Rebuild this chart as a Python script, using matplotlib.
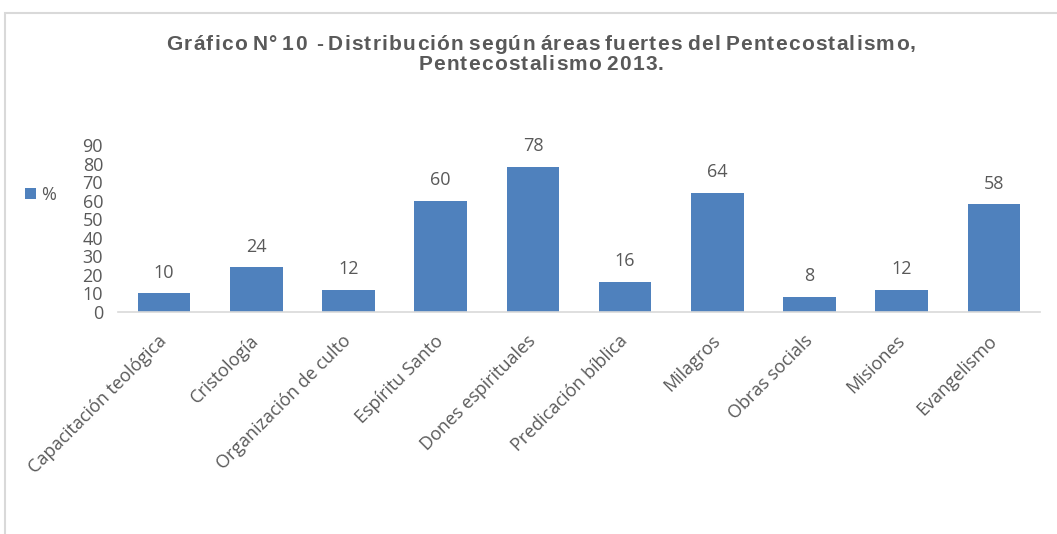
import matplotlib
matplotlib.use("Agg")
import matplotlib.pyplot as plt
from matplotlib.patches import Rectangle
from matplotlib.font_manager import FontProperties

categories = ["Capacitación teológica", "Cristología", "Organización de culto",
              "Espíritu Santo", "Dones espirituales", "Predicación bíblica",
              "Milagros", "Obras socials", "Misiones", "Evangelismo"]
values = [10, 24, 12, 60, 78, 16, 64, 8, 12, 58]
yticks = [0, 10, 20, 30, 40, 50, 60, 70, 80, 90]
series_name = "%"
title_lines = ["Gráfico N° 10  - Distribución según áreas fuertes del Pentecostalismo,",
               "Pentecostalismo 2013."]

W, H = 1057, 534
fig = plt.figure(figsize=(W / 100, H / 100), dpi=100)
fig.patch.set_facecolor("white")

# outer frame (top and left edges visible)
frame = Rectangle((5 / W, -0.2), 1.2, 1.2 - 13 / H, transform=fig.transFigure,
                  fill=False, edgecolor="#D9D9D9", linewidth=1.5)
fig.add_artist(frame)

ax = fig.add_axes([118 / W, 1 - 312 / H, (1040 - 118) / W, (312 - 145) / H])
bar_color = "#4F81BD"
text_color = "#595959"
font = ["Open Sans", "DejaVu Sans"]
fs = 13

x = list(range(len(categories)))
bars = ax.bar(x, values, width=0.57, color=bar_color, label=series_name, zorder=2)
for xi, v in zip(x, values):
    ax.annotate(str(v), (xi, v), xytext=(0, 15), textcoords="offset points",
                ha="center", va="center", fontsize=fs, color=text_color, family=font)

ax.set_xlim(-0.5, len(categories) - 0.5)
ax.set_ylim(0, 90)
ax.set_yticks(yticks)
ax.set_yticklabels([str(t) for t in yticks], fontsize=fs, color=text_color, family=font)
ax.set_xticks(x)
ax.set_xticklabels(categories, rotation=45, ha="right", va="center",
                   rotation_mode="anchor", fontsize=fs, color=text_color, family=font)
ax.tick_params(axis="both", length=0)
ax.tick_params(axis="y", pad=10.8)
ax.tick_params(axis="x", pad=19)
for s in ["top", "right", "left"]:
    ax.spines[s].set_visible(False)
ax.spines["bottom"].set_color("#D9D9D9")
ax.spines["bottom"].set_linewidth(1.2)

# title with slight letter spacing (drawn character by character)
renderer = fig.canvas.get_renderer()
tprop = FontProperties(family=["Liberation Sans", "DejaVu Sans"], weight="bold", size=15)
tracking = 1.2
line_y = [44, 64]
for line, ly in zip(title_lines, line_y):
    widths = []
    wa, _, _ = renderer.get_text_width_height_descent("aa", tprop, ismath=False)
    for ch in line:
        if ch == " ":
            w, _, _ = renderer.get_text_width_height_descent("a a", tprop, ismath=False)
            w = (w - wa) * 0.7
        else:
            w, _, _ = renderer.get_text_width_height_descent(ch, tprop, ismath=False)
            w = w + tracking
        widths.append(w)
    total = sum(widths) - tracking
    xpos = 541 - total / 2
    for ch, w in zip(line, widths):
        if ch != " ":
            fig.text(xpos / W, 1 - ly / H, ch, ha="left", va="center",
                     fontproperties=tprop, color=text_color)
        xpos += w

leg = fig.legend(handles=[bars], labels=[series_name], loc="center left",
                 bbox_to_anchor=(25 / W, 1 - 195 / H), frameon=False,
                 borderpad=0, borderaxespad=0,
                 handlelength=0.62, handleheight=0.62, handletextpad=0.3,
                 prop={"family": font, "size": fs})
for t in leg.get_texts():
    t.set_color(text_color)

fig.savefig("out.png", dpi=100, facecolor="white")
